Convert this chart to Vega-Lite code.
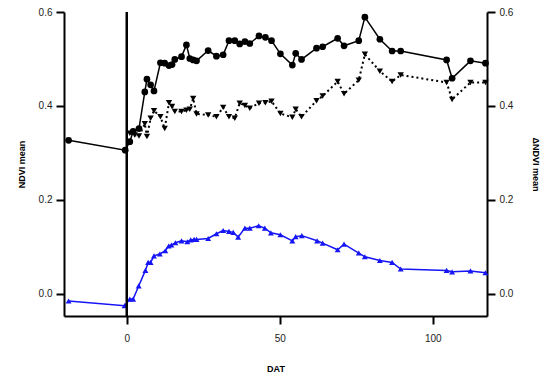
{
  "$schema": "https://vega.github.io/schema/vega-lite/v6.json",
  "width": 423,
  "height": 304,
  "autosize": "none",
  "padding": {"left": 64, "top": 12, "right": 63, "bottom": 65},
  "background": "white",
  "config": {
    "view": {"stroke": null},
    "font": "Liberation Sans",
    "axis": {
      "grid": false,
      "domainColor": "black",
      "domainWidth": 2,
      "tickColor": "black",
      "tickWidth": 2,
      "tickSize": 8,
      "labelFont": "Liberation Sans",
      "labelFontSize": 10,
      "labelColor": "#222",
      "titleFont": "Liberation Sans",
      "titleFontSize": 9,
      "titleFontWeight": "bold",
      "titleColor": "black"
    }
  },
  "datasets": {
    "ndvi": [
      {"DAT": -19, "value": 0.327}, {"DAT": -0.5, "value": 0.306}, {"DAT": 1, "value": 0.324}, {"DAT": 2.1, "value": 0.346},
      {"DAT": 4, "value": 0.352}, {"DAT": 5.9, "value": 0.43}, {"DAT": 6.6, "value": 0.457}, {"DAT": 7.8, "value": 0.445},
      {"DAT": 8.9, "value": 0.432}, {"DAT": 11, "value": 0.492}, {"DAT": 12.4, "value": 0.491}, {"DAT": 13.8, "value": 0.486},
      {"DAT": 14.8, "value": 0.488}, {"DAT": 15.7, "value": 0.499}, {"DAT": 17.9, "value": 0.505}, {"DAT": 19.5, "value": 0.53},
      {"DAT": 20.6, "value": 0.501}, {"DAT": 21.7, "value": 0.498}, {"DAT": 22.8, "value": 0.496}, {"DAT": 26.6, "value": 0.518},
      {"DAT": 29.3, "value": 0.506}, {"DAT": 31.5, "value": 0.509}, {"DAT": 33.4, "value": 0.539}, {"DAT": 35.3, "value": 0.539},
      {"DAT": 36.9, "value": 0.532}, {"DAT": 38.6, "value": 0.537}, {"DAT": 40.2, "value": 0.533}, {"DAT": 43.2, "value": 0.549},
      {"DAT": 45.3, "value": 0.546}, {"DAT": 47.3, "value": 0.539}, {"DAT": 50.2, "value": 0.511}, {"DAT": 54.1, "value": 0.487},
      {"DAT": 55.2, "value": 0.512}, {"DAT": 57.1, "value": 0.499}, {"DAT": 62, "value": 0.523}, {"DAT": 64, "value": 0.526},
      {"DAT": 68.9, "value": 0.544}, {"DAT": 71, "value": 0.528}, {"DAT": 75.8, "value": 0.539}, {"DAT": 77.8, "value": 0.589},
      {"DAT": 82.7, "value": 0.542}, {"DAT": 86.7, "value": 0.517}, {"DAT": 89.5, "value": 0.517}, {"DAT": 104.5, "value": 0.498},
      {"DAT": 106.3, "value": 0.459}, {"DAT": 112.3, "value": 0.496}, {"DAT": 117.2, "value": 0.491}
    ],
    "dotted": [
      {"DAT": 1, "value": 0.342}, {"DAT": 2.6, "value": 0.338}, {"DAT": 4, "value": 0.336}, {"DAT": 5.9, "value": 0.362},
      {"DAT": 6.6, "value": 0.335}, {"DAT": 7.8, "value": 0.374}, {"DAT": 8.9, "value": 0.39}, {"DAT": 11, "value": 0.377},
      {"DAT": 12.4, "value": 0.352}, {"DAT": 13.8, "value": 0.407}, {"DAT": 14.8, "value": 0.399}, {"DAT": 15.7, "value": 0.388},
      {"DAT": 17.9, "value": 0.388}, {"DAT": 19.5, "value": 0.391}, {"DAT": 20.6, "value": 0.393}, {"DAT": 21.7, "value": 0.416},
      {"DAT": 22.8, "value": 0.383}, {"DAT": 26.6, "value": 0.381}, {"DAT": 29.3, "value": 0.377}, {"DAT": 31.5, "value": 0.397},
      {"DAT": 33.4, "value": 0.377}, {"DAT": 35.3, "value": 0.374}, {"DAT": 36.9, "value": 0.406}, {"DAT": 38.6, "value": 0.401},
      {"DAT": 40.2, "value": 0.395}, {"DAT": 43.2, "value": 0.406}, {"DAT": 45.3, "value": 0.407}, {"DAT": 47.3, "value": 0.41},
      {"DAT": 50.2, "value": 0.384}, {"DAT": 54.1, "value": 0.376}, {"DAT": 55.2, "value": 0.393}, {"DAT": 57.1, "value": 0.377},
      {"DAT": 62, "value": 0.411}, {"DAT": 64, "value": 0.421}, {"DAT": 68.9, "value": 0.452}, {"DAT": 71, "value": 0.426},
      {"DAT": 75.8, "value": 0.455}, {"DAT": 77.8, "value": 0.51}, {"DAT": 82.7, "value": 0.474}, {"DAT": 86.7, "value": 0.452},
      {"DAT": 89.5, "value": 0.466}, {"DAT": 104.5, "value": 0.45}, {"DAT": 106.3, "value": 0.414}, {"DAT": 112.3, "value": 0.45},
      {"DAT": 117.2, "value": 0.45}
    ],
    "delta": [
      {"DAT": -19, "value": -0.015}, {"DAT": -0.7, "value": -0.025}, {"DAT": 1, "value": -0.011}, {"DAT": 2.1, "value": -0.011},
      {"DAT": 3.9, "value": 0.017}, {"DAT": 6.1, "value": 0.05}, {"DAT": 7, "value": 0.067}, {"DAT": 7.8, "value": 0.067},
      {"DAT": 8.9, "value": 0.081}, {"DAT": 10.8, "value": 0.085}, {"DAT": 12.6, "value": 0.092}, {"DAT": 13.7, "value": 0.102},
      {"DAT": 14.6, "value": 0.104}, {"DAT": 15.9, "value": 0.109}, {"DAT": 17.9, "value": 0.113}, {"DAT": 19.8, "value": 0.111},
      {"DAT": 20.9, "value": 0.115}, {"DAT": 22, "value": 0.116}, {"DAT": 22.8, "value": 0.116}, {"DAT": 26.6, "value": 0.118},
      {"DAT": 29.3, "value": 0.128}, {"DAT": 31.5, "value": 0.135}, {"DAT": 33.4, "value": 0.133}, {"DAT": 34.8, "value": 0.131},
      {"DAT": 36.4, "value": 0.121}, {"DAT": 38.6, "value": 0.14}, {"DAT": 40.2, "value": 0.14}, {"DAT": 43.1, "value": 0.145},
      {"DAT": 45.1, "value": 0.14}, {"DAT": 47.1, "value": 0.13}, {"DAT": 50.2, "value": 0.126}, {"DAT": 54.1, "value": 0.113},
      {"DAT": 55.2, "value": 0.122}, {"DAT": 57.2, "value": 0.124}, {"DAT": 62.2, "value": 0.113}, {"DAT": 64, "value": 0.108},
      {"DAT": 68.9, "value": 0.094}, {"DAT": 71, "value": 0.106}, {"DAT": 75.8, "value": 0.087}, {"DAT": 77.8, "value": 0.079},
      {"DAT": 82.7, "value": 0.071}, {"DAT": 86.7, "value": 0.067}, {"DAT": 89.5, "value": 0.053}, {"DAT": 104.5, "value": 0.05},
      {"DAT": 106.3, "value": 0.047}, {"DAT": 112.3, "value": 0.049}, {"DAT": 117.2, "value": 0.045}
    ],
    "zero": [{"DAT": 0}]
  },
  "encoding": {
    "x": {
      "field": "DAT",
      "type": "quantitative",
      "scale": {"domain": [-20.5, 117.7], "nice": false, "zero": false},
      "axis": {"title": "DAT", "values": [0, 50, 100], "labelPadding": 9, "titlePadding": 21}
    }
  },
  "layer": [
    {
      "data": {"name": "ndvi"},
      "mark": {"type": "line", "color": "black", "strokeWidth": 1.5},
      "encoding": {
        "y": {
          "field": "value", "type": "quantitative",
          "scale": {"domain": [-0.047, 0.6], "nice": false, "zero": false},
          "axis": {"orient": "left", "title": "NDVI mean", "values": [0, 0.2, 0.4, 0.6], "format": ".1f", "labelPadding": 4, "titlePadding": 12}
        }
      }
    },
    {
      "data": {"name": "ndvi"},
      "mark": {"type": "point", "shape": "circle", "filled": true, "color": "black", "size": 45, "opacity": 1},
      "encoding": {"y": {"field": "value", "type": "quantitative", "scale": {"domain": [-0.047, 0.6], "nice": false, "zero": false}, "axis": null}}
    },
    {
      "data": {"name": "dotted"},
      "mark": {"type": "line", "color": "black", "strokeWidth": 2, "strokeDash": [2, 3]},
      "encoding": {"y": {"field": "value", "type": "quantitative", "scale": {"domain": [-0.047, 0.6], "nice": false, "zero": false}, "axis": null}}
    },
    {
      "data": {"name": "dotted"},
      "mark": {"type": "point", "shape": "triangle-down", "filled": true, "color": "black", "size": 40, "opacity": 1},
      "encoding": {"y": {"field": "value", "type": "quantitative", "scale": {"domain": [-0.047, 0.6], "nice": false, "zero": false}, "axis": null}}
    },
    {
      "data": {"name": "delta"},
      "mark": {"type": "line", "color": "#1515f5", "strokeWidth": 1.5},
      "encoding": {
        "y": {
          "field": "value", "type": "quantitative",
          "scale": {"domain": [-0.047, 0.6], "nice": false, "zero": false},
          "axis": {"orient": "right", "title": "ΔNDVI mean", "values": [0, 0.2, 0.4, 0.6], "format": ".1f", "labelPadding": 4, "titlePadding": 18}
        }
      }
    },
    {
      "data": {"name": "delta"},
      "mark": {"type": "point", "shape": "triangle-up", "filled": true, "color": "#1515f5", "size": 35, "opacity": 1},
      "encoding": {"y": {"field": "value", "type": "quantitative", "scale": {"domain": [-0.047, 0.6], "nice": false, "zero": false}, "axis": null}}
    },
    {
      "data": {"name": "zero"},
      "mark": {"type": "rule", "color": "black", "strokeWidth": 2.5},
      "encoding": {}
    }
  ],
  "resolve": {"axis": {"y": "independent"}}
}
